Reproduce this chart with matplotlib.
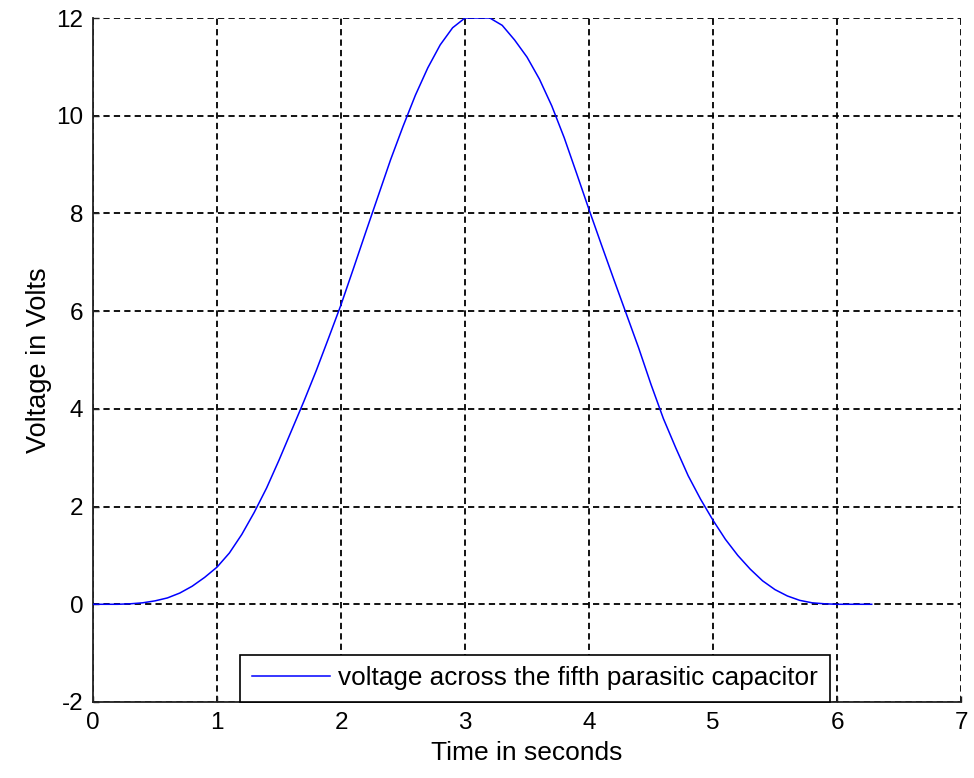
import matplotlib
matplotlib.use("Agg")
import matplotlib.pyplot as plt

# Data
time_s = [0.0, 0.1, 0.2, 0.3, 0.4, 0.5, 0.6, 0.7, 0.8, 0.9,
          1.0, 1.1, 1.2, 1.3, 1.4, 1.5, 1.6, 1.7, 1.8, 1.9,
          2.0, 2.1, 2.2, 2.3, 2.4, 2.5, 2.6, 2.7, 2.8, 2.9,
          3.0, 3.1, 3.2, 3.3, 3.4, 3.5, 3.6, 3.7, 3.8, 3.9,
          4.0, 4.1, 4.2, 4.3, 4.4, 4.5, 4.6, 4.7, 4.8, 4.9,
          5.0, 5.1, 5.2, 5.3, 5.4, 5.5, 5.6, 5.7, 5.8, 5.9,
          6.0, 6.28]
voltage = [0.0, 0.0, 0.0, 0.01, 0.03, 0.07, 0.13, 0.23, 0.37, 0.55,
           0.76, 1.05, 1.43, 1.88, 2.38, 2.95, 3.55, 4.15, 4.78, 5.45,
           6.13, 6.87, 7.62, 8.36, 9.1, 9.78, 10.42, 10.98, 11.45, 11.8,
           12.0, 12.0, 12.0, 11.85, 11.55, 11.2, 10.75, 10.2, 9.55, 8.82,
           8.08, 7.36, 6.65, 5.95, 5.25, 4.5, 3.8, 3.2, 2.63, 2.15,
           1.72, 1.33, 1.0, 0.72, 0.48, 0.3, 0.17, 0.08, 0.03, 0.01,
           0.0, 0.0]
x_ticks = [0, 1, 2, 3, 4, 5, 6, 7]
y_ticks = [-2, 0, 2, 4, 6, 8, 10, 12]
series_label = "voltage across the fifth parasitic capacitor"
x_label = "Time in seconds"
y_label = "Voltage in Volts"

plt.rcParams["font.family"] = ["Liberation Sans", "DejaVu Sans"]
plt.rcParams["lines.scale_dashes"] = False
plt.rcParams["axes.unicode_minus"] = False

fig = plt.figure(figsize=(9.74, 7.78), dpi=100, facecolor="white")
ax = fig.add_axes([93 / 974, 1 - 702 / 778, (961 - 93) / 974, (702 - 18) / 778])

ax.plot(time_s, voltage, color="#0000ff", lw=1.1, label=series_label,
        clip_on=True, zorder=3)

ax.set_xlim(0, 7)
ax.set_ylim(-2, 12)
ax.set_xticks(x_ticks)
ax.set_yticks(y_ticks)
ax.grid(True, color="black", linestyle=(0, (4.5, 3.0)), linewidth=1.3)
ax.set_axisbelow(True)

for s in ["top", "right"]:
    ax.spines[s].set_visible(False)
for s in ["left", "bottom"]:
    ax.spines[s].set_color("#222222")
    ax.spines[s].set_linewidth(1.3)

ax.tick_params(direction="in", length=4, width=1, labelsize=17.5, pad=7,
               colors="#222222", labelcolor="black")

ax.set_xlabel(x_label, fontsize=19, labelpad=5)
ax.set_ylabel(y_label, fontsize=19.5, labelpad=3)

leg = ax.legend(loc="lower center", bbox_to_anchor=(0.509, 0.0),
                borderaxespad=0.0, fontsize=18.8, frameon=True, fancybox=False,
                handlelength=3.0, handletextpad=0.3, borderpad=0.45)
leg.get_frame().set_edgecolor("black")
leg.get_frame().set_linewidth(1.2)
leg.get_frame().set_alpha(1)

fig.savefig("out.png", dpi=100, facecolor="white")
